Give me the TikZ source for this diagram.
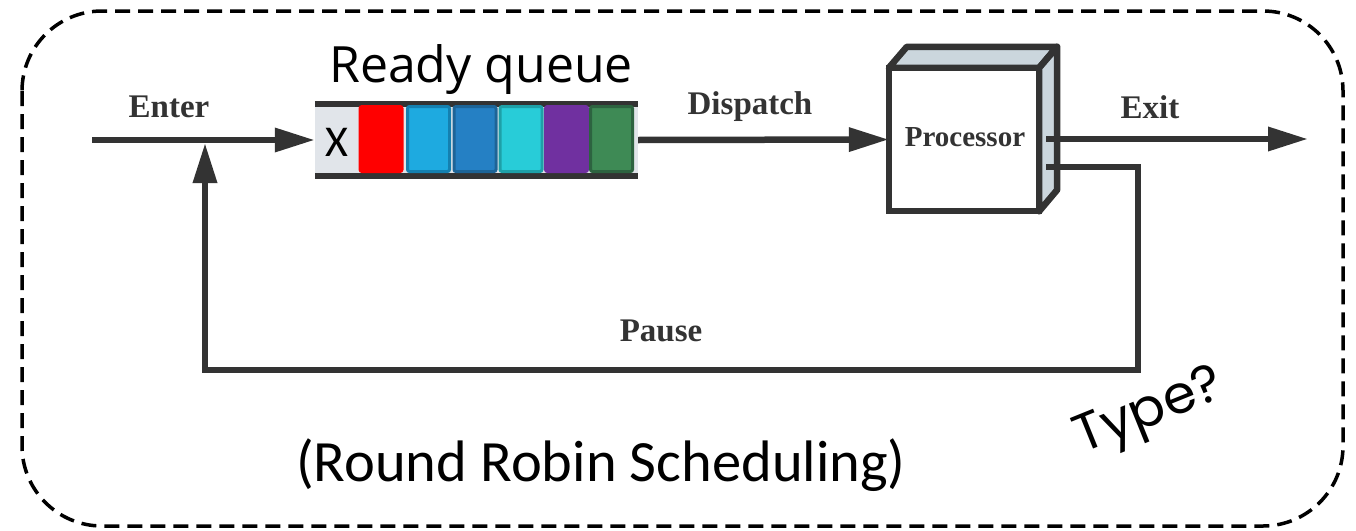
\documentclass[tikz,border=0pt]{standalone}
\usepackage{fontspec}
\usetikzlibrary{arrows.meta}
\newfontfamily\labelfont{Liberation Serif}
\newfontfamily\bodyfont{Carlito}
\newfontfamily\headfont{Open Sans}
\newfontfamily\notefont{Poppins}
\definecolor{ink}{HTML}{333333}
\definecolor{slot}{HTML}{E1E5EA}
\definecolor{sideface}{HTML}{CBD6DD}
\definecolor{skyfill}{HTML}{1EAAE0}
\definecolor{skyline}{HTML}{1480B0}
\definecolor{bluefill}{HTML}{2580C4}
\definecolor{blueline}{HTML}{1D6497}
\definecolor{cyanfill}{HTML}{28CCD8}
\definecolor{cyanline}{HTML}{1EA0A8}
\definecolor{violet}{HTML}{7030A0}
\definecolor{greenfill}{HTML}{3E8A55}
\definecolor{greenline}{HTML}{2D6340}
\tikzset{
  flow/.style={draw=ink, line width=6.5pt, -{Triangle[length=40pt,width=23pt]}},
  wire/.style={draw=ink, line width=6.5pt},
  tag/.style={font=\labelfont\bfseries\fontsize{33}{36}\selectfont, text=ink},
  cell/.style={minimum width=42pt, minimum height=65pt, inner sep=0pt, line width=3pt, rounded corners=2pt},
}
\begin{document}
\begin{tikzpicture}[x=1pt,y=-1pt]
\useasboundingbox (0,0) rectangle (1356,530);

% outer dashed frame
\draw[line width=3.5pt, dash pattern=on 15pt off 8pt, rounded corners=80pt] (22,11) rectangle (1343,526);

% ready queue
\fill[slot] (315,104) rectangle (638,176);
\node[minimum width=323pt, minimum height=72pt, inner sep=0pt] (queue) at (476.5,140) {};
\draw[ink, line width=6.5pt] (queue.north west) -- (queue.north east);
\draw[ink, line width=6.5pt] (queue.south west) -- (queue.south east);
\node[font=\bodyfont\fontsize{44}{48}\selectfont] (x) at (337,142) {X};
\node[cell, fill=red, draw=red] (c1) at (381,139) {};
\node[cell, fill=skyfill, draw=skyline] (c2) at (428.5,139) {};
\node[cell, fill=bluefill, draw=blueline] (c3) at (475,139) {};
\node[cell, fill=cyanfill, draw=cyanline] (c4) at (521,139) {};
\node[cell, fill=violet, draw=violet] (c5) at (566.5,139) {};
\node[cell, fill=greenfill, draw=greenline] (c6) at (611.5,139) {};
\node[font=\headfont\fontsize{50}{54}\selectfont] (rq) at (481,70) {Ready queue};

% processor drawn as a box with depth
\node[minimum width=150pt, minimum height=143pt, inner sep=0pt] (proc) at (964,139.5) {};
\filldraw[fill=sideface, draw=ink, line width=6.5pt, line join=round]
  (proc.north west) -- ++(18,-21) -- ++(150,0) -- (proc.north east) -- cycle;
\filldraw[fill=sideface, draw=ink, line width=6.5pt, line join=round]
  (proc.north east) -- ++(18,-21) -- ++(0,143) -- (proc.south east) -- cycle;
\draw[ink, fill=white, line width=6.5pt] (proc.north west) rectangle (proc.south east);
\node[tag, font=\labelfont\bfseries\fontsize{29}{32}\selectfont] (ptext) at (965,137) {Processor};

% connectors
\coordinate (in) at (92,140);
\coordinate (out) at (1308,139);
\coordinate (exitport) at (1046,139);
\coordinate (backport) at (1046,167);
\coordinate (join) at (205,143);
\draw[flow] (in) -- (queue.west);
\draw[flow] (queue.east) -- (proc.west);
\draw[flow] (exitport) -- (out);
\draw[wire, line join=miter] (backport) -| (1138,370) -| (205,180);
\draw[flow] (205,200) -- (join);

% labels
\node[tag] (enter) at (169,107) {Enter};
\node[tag] (dispatch) at (750,107) {Dispatch};
\node[tag] (exit) at (1150,107) {Exit};
\node[tag] (pause) at (661,331) {Pause};

\node[font=\bodyfont\fontsize{58.5}{62}\selectfont] (title) at (601,465) {(Round Robin Scheduling)};
\node[font=\notefont\fontsize{53}{56}\selectfont, rotate=22] (type) at (1150,414) {Type?};
\end{tikzpicture}
\end{document}
